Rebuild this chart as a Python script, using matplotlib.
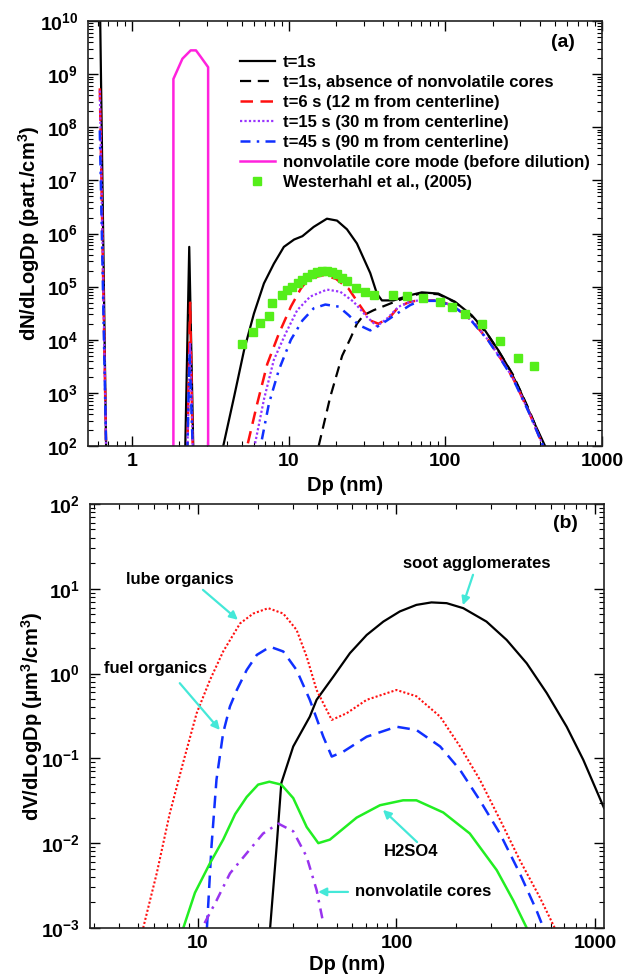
import numpy as np
import matplotlib
matplotlib.use('Agg')
import matplotlib.pyplot as plt
from matplotlib.ticker import LogLocator, FuncFormatter, NullFormatter
from matplotlib.legend_handler import HandlerLine2D

plt.rcParams['font.family'] = ['Liberation Sans', 'DejaVu Sans']
plt.rcParams['font.weight'] = 'bold'
plt.rcParams['axes.labelweight'] = 'bold'
plt.rcParams['axes.unicode_minus'] = False
plt.rcParams['mathtext.fontset'] = 'custom'
plt.rcParams['mathtext.rm'] = 'Liberation Sans:bold'
plt.rcParams['mathtext.bf'] = 'Liberation Sans:bold'
plt.rcParams['mathtext.it'] = 'Liberation Sans:bold'
plt.rcParams['mathtext.default'] = 'bf'

# ---------------- panel (a) : number distributions (part./cm3)
dp_t1 = [0.615, 0.68, 0.70, 2.15, 2.18, 2.31, 2.45, 2.5, 3.6, 3.81, 4.47, 5.17, 5.98, 6.93, 8.02,
         9.29, 10.8, 12.2, 14.4, 17.5, 20.3, 23.5, 27.2, 33.1, 36.5, 39.3, 46.6, 59.6, 70.6, 90,
         115, 147, 179, 218, 258, 300, 355, 433, 470]
n_t1 = [2e11, 1e2, 1, 1, 1e2, 5.6e5, 1e2, 1, 1, 1e2, 850, 6.3e3, 3.1e4, 1.15e5, 2.7e5,
        5.6e5, 7.7e5, 8.9e5, 1.33e6, 1.9e6, 1.75e6, 1.2e6, 6.5e5, 1.8e5, 7.4e4, 5.5e4, 5.5e4, 6.9e4, 7.8e4, 7.4e4,
        5.2e4, 2.9e4, 1.5e4, 6.3e3, 2.7e3, 1.1e3, 350, 1e2, 10]

dp_t1_nocore = [14.5, 15.5, 18.4, 21.9, 24.7, 27.2, 30, 34.8, 44.4, 58, 70.6, 90, 115, 147,
                188, 228, 270, 340, 425, 460]
n_t1_nocore = [10, 1e2, 850, 5e3, 1.05e4, 2e4, 2.9e4, 3.6e4, 4.8e4, 6.5e4, 7.5e4, 7.2e4, 5.1e4, 2.8e4,
               1.2e4, 5e3, 2.2e3, 5e2, 1e2, 10]

dp_t6 = [0.62, 0.68, 0.70, 2.2, 2.25, 2.34, 2.43, 2.5, 5.2, 5.42, 6.28, 7.28, 8.63, 10.3, 11.9,
         12.8, 14.5, 16.7, 20, 24.1, 27.9, 33.1, 37.4, 44.4, 50.3, 59.6, 67.3, 90, 115, 147,
         188, 228, 270, 340, 421, 450]
n_t6 = [5.4e8, 1e2, 1, 1, 1e2, 5e4, 1e2, 1, 1, 1e2, 630, 3.5e3, 1.3e4, 4.2e4, 9.1e4,
        1.2e5, 1.5e5, 1.65e5, 1.4e5, 9.1e4, 4.8e4, 2.3e4, 2e4, 2.7e4, 4.2e4, 5.2e4, 5.5e4, 5.5e4, 4.2e4, 2.3e4,
        9.8e3, 4.2e3, 1.9e3, 4.5e2, 1e2, 10]

dp_t15 = [0.62, 0.68, 0.70, 2.2, 2.25, 2.34, 2.43, 2.5, 5.8, 6.04, 6.93, 8.02, 9.52, 11.3, 13.7,
          17.5, 21.3, 25.9, 31.5, 36.5, 42.3, 50.3, 59.6, 67.3, 90, 115, 147, 188, 228,
          270, 340, 421, 450]
n_t15 = [4.9e8, 1e2, 1, 1, 1e2, 8.7e3, 1e2, 1, 1, 1e2, 750, 4.2e3, 1.3e4, 3.6e4, 6.5e4,
         8.8e4, 8e4, 5.2e4, 2.7e4, 1.8e4, 2.5e4, 4.2e4, 5.2e4, 5.5e4, 5.5e4, 4.2e4, 2.3e4, 9.8e3, 4.2e3,
         1.9e3, 4.5e2, 1e2, 10]

dp_t45 = [0.62, 0.68, 0.70, 2.2, 2.25, 2.32, 2.43, 2.5, 6.4, 6.6, 7.46, 8.63, 10.3, 12.2, 14.4,
          17.1, 20.8, 24.1, 27.9, 33.1, 38.4, 49, 59.6, 68.9, 90, 115, 147, 188, 228,
          270, 340, 421, 450]
n_t45 = [8.7e7, 1e2, 1, 1, 1e2, 5.6e3, 1e2, 1, 1, 1e2, 630, 2.7e3, 1e4, 2.3e4, 3.9e4,
         4.6e4, 4.2e4, 2.9e4, 1.9e4, 1.5e4, 1.9e4, 3.1e4, 4.5e4, 5.4e4, 5.4e4, 4.1e4, 2.25e4, 9.6e3, 4.1e3,
         1.85e3, 4.4e2, 1e2, 10]

dp_core = [1.83, 1.83, 2.09, 2.36, 2.55, 2.74, 3.05, 3.05]
n_core = [1, 8.1e8, 1.95e9, 2.8e9, 2.8e9, 2.1e9, 1.35e9, 1]

dp_west = [5.04, 5.93, 6.53, 7.46, 7.76, 9.06, 9.67, 10.5, 11.4, 12.2, 13.1, 14.1, 15.1, 16.3,
           17.5, 18.9, 20.3, 21.9, 23.5, 27, 30.8, 35.1, 46.1, 56.6, 71.6, 92.5, 110, 133,
           170, 223, 292, 369]
n_west = [8.3e3, 1.37e4, 2.1e4, 2.75e4, 4.9e4, 6.9e4, 8.5e4, 1.0e5, 1.17e5, 1.35e5, 1.5e5, 1.7e5, 1.9e5, 2.0e5,
          2.0e5, 1.9e5, 1.7e5, 1.47e5, 1.28e5, 9.6e4, 8e4, 6.9e4, 6.9e4, 6.6e4, 6.0e4, 5.1e4, 4.2e4, 3.1e4,
          2.0e4, 9.6e3, 4.5e3, 3.2e3]

# ---------------- panel (b) : volume distributions (um3/cm3)
dp_soot = [23.1, 24.9, 26.3, 30.2, 36.6, 39.6, 48.1, 58.3, 70.8, 85.9, 104, 126, 150, 179,
           217, 284, 359, 453, 571, 720, 873, 1110]
v_soot = [1e-3, 0.009, 0.051, 0.138, 0.31, 0.49, 0.92, 1.74, 2.85, 4.1, 5.4, 6.45, 6.9, 6.76,
          5.9, 4.1, 2.49, 1.32, 0.59, 0.236, 0.096, 0.026]

dp_lube = [5.3, 6.2, 7.2, 8.4, 9.85, 11.5, 13.4, 16.3, 19, 22.6, 26.9, 31.4, 35.3, 39.6, 47.2,
           56.1, 70.8, 100, 126, 166, 209, 263, 332, 418, 527, 627]
v_lube = [1e-3, 0.0044, 0.022, 0.087, 0.34, 0.84, 1.82, 3.9, 5.1, 5.9, 5.1, 3.27, 1.58, 0.64, 0.284,
          0.34, 0.49, 0.64, 0.54, 0.31, 0.138, 0.056, 0.019, 0.0063, 0.0023, 1e-3]

dp_fuel = [11.1, 11.7, 12.4, 13.4, 14.5, 15.7, 17.6, 19.8, 23.1, 26.9, 31.4, 36.6, 42.8, 47.2,
           54, 70.8, 100, 126, 166, 209, 263, 332, 418, 508, 550]
v_fuel = [1e-3, 0.0091, 0.056, 0.2, 0.41, 0.64, 1.1, 1.66, 2.07, 1.82, 1.1, 0.49, 0.18, 0.105,
          0.12, 0.18, 0.236, 0.216, 0.138, 0.073, 0.032, 0.013, 0.0044, 0.0016, 1e-3]

dp_h2so4 = [8.44, 9.66, 11.5, 13.4, 15.4, 17.6, 20.1, 22.9, 26.3, 30.2, 35.3, 40.4, 46.2, 63,
            82.6, 108, 126, 172, 234, 320, 388, 453]
v_h2so4 = [1e-3, 0.0026, 0.0058, 0.011, 0.022, 0.035, 0.049, 0.053, 0.049, 0.034, 0.0155, 0.01, 0.011, 0.02,
           0.028, 0.032, 0.032, 0.023, 0.013, 0.0048, 0.0021, 1e-3]

dp_cores = [10.8, 12.4, 14.5, 17.6, 21.3, 25.4, 30.2, 35.3, 39.6, 42.8]
v_cores = [1.14e-3, 0.0021, 0.0044, 0.0076, 0.013, 0.017, 0.0138, 0.0069, 0.0028, 1.14e-3]

labels_a = ['t=1s', 't=1s, absence of nonvolatile cores', 't=6 s (12 m from centerline)',
            't=15 s (30 m from centerline)', 't=45 s (90 m from centerline)',
            'nonvolatile core mode (before dilution)', 'Westerhahl et al., (2005)']


class EndMarkerHandler(HandlerLine2D):
    # legend marker drawn at the right end of the handle, next to the text
    def get_xdata(self, legend, xdescent, ydescent, width, height, fontsize):
        xdata, xdata_marker = super().get_xdata(legend, xdescent, ydescent, width, height, fontsize)
        return xdata, [-xdescent + 0.9 * width]


# ---------------- figure
fig = plt.figure(figsize=(6.32, 9.77), dpi=100)
ax_a = fig.add_axes([0.139, 0.5435, 0.8135, 0.435])
ax_b = fig.add_axes([0.1424, 0.0502, 0.8133, 0.434])

tick_fs = 14
label_fs = 14.5


def style_axis(ax):
    ax.set_xscale('log')
    ax.set_yscale('log')
    ax.yaxis.set_major_locator(LogLocator(base=10, numticks=20))
    ax.yaxis.set_minor_locator(LogLocator(base=10, subs=np.arange(2, 10), numticks=100))
    ax.yaxis.set_minor_formatter(NullFormatter())
    ax.xaxis.set_major_locator(LogLocator(base=10, numticks=20))
    ax.xaxis.set_minor_locator(LogLocator(base=10, subs=np.arange(2, 10), numticks=100))
    ax.xaxis.set_minor_formatter(NullFormatter())
    ax.xaxis.set_major_formatter(FuncFormatter(lambda v, p: '%g' % v))
    ax.tick_params(which='both', direction='in', top=True, right=True, labelsize=tick_fs)
    ax.tick_params(which='major', length=7, width=1)
    ax.tick_params(which='minor', length=3.5, width=0.8)
    ax.tick_params(axis='y', pad=7)
    ax.tick_params(axis='x', pad=5)
    for s in ax.spines.values():
        s.set_linewidth(1.2)
        s.set_color('#222222')


# panel (a)
ax_a.plot(dp_t1, n_t1, color='black', lw=1.6, label=labels_a[0])
ax_a.plot(dp_t1_nocore, n_t1_nocore, color='black', lw=1.6, dashes=(5, 3), label=labels_a[1])
ax_a.plot(dp_t6, n_t6, color='#ff1010', lw=1.8, dashes=(5, 3), label=labels_a[2])
ax_a.plot(dp_t15, n_t15, color='#9933ff', lw=1.6, dashes=(1, 1), label=labels_a[3])
ax_a.plot(dp_t45, n_t45, color='#1030ff', lw=1.8, dashes=(4, 2.5, 1, 2.5), label=labels_a[4])
ax_a.plot(dp_core, n_core, color='#ff22dd', lw=1.8, label=labels_a[5])
west, = ax_a.plot(dp_west, n_west, ls='none', marker='s', ms=6, color='#55ee1a', label=labels_a[6])
style_axis(ax_a)
ax_a.set_xlim(0.52, 1000)
ax_a.set_ylim(1e2, 1e10)
ax_a.set_xlabel('Dp (nm)', fontsize=label_fs, labelpad=4)
ax_a.set_ylabel('dN/dLogDp (part./cm$^3$)', fontsize=label_fs)
ax_a.yaxis.set_label_coords(-0.09, 0.5)
ax_a.text(0.924, 0.95, '(a)', transform=ax_a.transAxes, fontsize=14, ha='center', va='center')
ax_a.legend(loc='upper left', bbox_to_anchor=(0.2957, 0.921), frameon=False, fontsize=12,
            borderpad=0, borderaxespad=0, handlelength=2.1, handletextpad=0.48,
            labelspacing=0.3, numpoints=1,
            handler_map={west: EndMarkerHandler(numpoints=1)})

# panel (b)
ax_b.plot(dp_soot, v_soot, color='black', lw=1.6)
ax_b.plot(dp_lube, v_lube, color='#ff1010', lw=1.5, dashes=(1, 1))
ax_b.plot(dp_fuel, v_fuel, color='#1030ff', lw=1.8, dashes=(5, 3))
ax_b.plot(dp_h2so4, v_h2so4, color='#22ee22', lw=1.8)
ax_b.plot(dp_cores, v_cores, color='#9933ee', lw=1.8, dashes=(4, 2.5, 1, 2.5))
style_axis(ax_b)
ax_b.set_xlim(2.86, 1110)
ax_b.set_ylim(1e-3, 1e2)
ax_b.set_xlabel('Dp (nm)', fontsize=label_fs, labelpad=2)
ax_b.set_ylabel(r'dV/dLogDp (μm$^3$/cm$^3$)', fontsize=label_fs)
ax_b.yaxis.set_label_coords(-0.088, 0.5)
ax_b.text(0.924, 0.955, '(b)', transform=ax_b.transAxes, fontsize=14, ha='center', va='center')

arrow = dict(arrowstyle='-|>', color='#44e8d8', lw=1.6, mutation_scale=12, shrinkA=0, shrinkB=0)
ann_fs = 12
ax_b.annotate('', xy=(15.9, 4.3), xytext=(10.6, 9.7), arrowprops=arrow)
ax_b.text(8.1, 12.7, 'lube organics', fontsize=ann_fs, ha='center', va='center')
ax_b.annotate('', xy=(12.9, 0.216), xytext=(8.1, 0.77), arrowprops=arrow)
ax_b.text(6.1, 1.16, 'fuel organics', fontsize=ann_fs, ha='center', va='center')
ax_b.annotate('', xy=(216, 6.4), xytext=(243, 14.6), arrowprops=arrow)
ax_b.text(255, 20, 'soot agglomerates', fontsize=ann_fs, ha='center', va='center')
ax_b.annotate('', xy=(85.5, 0.0247), xytext=(127, 0.0103), arrowprops=arrow)
ax_b.text(118, 0.0079, 'H2SO4', fontsize=ann_fs, ha='center', va='center')
ax_b.annotate('', xy=(40.3, 0.00266), xytext=(57, 0.00266), arrowprops=arrow)
ax_b.text(61.8, 0.00266, 'nonvolatile cores', fontsize=ann_fs, ha='left', va='center')

fig.savefig('out.png', dpi=100)
